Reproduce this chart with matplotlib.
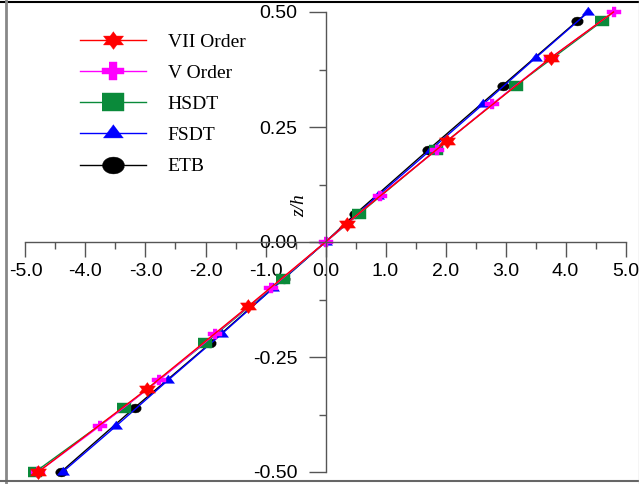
import numpy as np
import matplotlib.pyplot as plt
from matplotlib.lines import Line2D
from matplotlib.ticker import MultipleLocator, FormatStrFormatter

plt.rcParams['axes.unicode_minus'] = False

# through-thickness distribution (x value vs z/h) for each theory
z_vii = [-0.5, -0.32, -0.14, 0.0, 0.04, 0.22, 0.40, 0.5]
x_vii = [-4.79, -2.98, -1.29, 0.0, 0.35, 2.03, 3.75, 4.80]

z_v = [-0.5, -0.4, -0.3, -0.2, -0.1, 0.0, 0.1, 0.2, 0.3, 0.4, 0.5]
x_v = [-4.79, -3.76, -2.77, -1.84, -0.91, 0.0, 0.90, 1.85, 2.78, 3.75, 4.80]

z_hsdt = [-0.5, -0.36, -0.22, -0.08, 0.0, 0.06, 0.20, 0.34, 0.48, 0.5]
x_hsdt = [-4.84, -3.36, -2.01, -0.71, 0.0, 0.55, 1.84, 3.17, 4.61, 4.80]

z_fsdt = [-0.5, -0.4, -0.3, -0.2, -0.1, 0.0, 0.1, 0.2, 0.3, 0.4, 0.5]
x_fsdt = [-4.38, -3.49, -2.62, -1.73, -0.87, 0.0, 0.87, 1.75, 2.63, 3.50, 4.38]

z_etb = [-0.5, -0.36, -0.22, -0.08, 0.0, 0.06, 0.20, 0.34, 0.48, 0.5]
x_etb = [-4.41, -3.18, -1.92, -0.70, 0.0, 0.49, 1.71, 2.95, 4.19, 4.38]

labels = ['VII Order', 'V Order', 'HSDT', 'FSDT', 'ETB']
colors = ['#ff0000', '#ff00ff', '#0a8a3a', '#0000ff', '#000000']


# markers in the reference are a bit wider than tall
def wide(verts, sx=1.3):
    return [(x * sx, y) for x, y in verts]


a = 0.36
m_plus = wide([(-a, 1), (a, 1), (a, a), (1, a), (1, -a), (a, -a), (a, -1), (-a, -1),
               (-a, -a), (-1, -a), (-1, a), (-a, a)])
m_square = wide([(-1, -1), (1, -1), (1, 1), (-1, 1)])
m_tri = wide([(0, 1), (-0.866, -0.5), (0.866, -0.5)])
ang = np.radians(np.arange(90, 450, 30))
rad = np.where(np.arange(12) % 2 == 0, 1.0, 0.58)
m_star = wide(list(zip(rad * np.cos(ang), rad * np.sin(ang))))
ang2 = np.linspace(0, 2 * np.pi, 41)[:-1]
m_ell = wide(list(zip(np.cos(ang2), np.sin(ang2))))

markers = [m_star, m_plus, m_square, m_tri, m_ell]
plot_ms = [11.5, 9.4, 9.4, 9.0, 8.3]
leg_ms = [14.4, 16.5, 16.5, 14.4, 15.8]

fig = plt.figure(figsize=(6.39, 4.84), dpi=100)
ax = fig.add_axes([0, 0, 1, 1])

# drawn back to front: ETB first, VII Order on top
series = [(x_vii, z_vii, [0, 1, 2, 4, 5, 6]),
          (x_v, z_v, None),
          (x_hsdt, z_hsdt, [0, 1, 2, 3, 5, 6, 7, 8]),
          (x_fsdt, z_fsdt, None),
          (x_etb, z_etb, [0, 1, 2, 3, 5, 6, 7, 8])]
for i in reversed(range(5)):
    xs, zs, mk = series[i]
    ax.plot(xs, zs, color=colors[i], lw=1.0, marker=markers[i], ms=plot_ms[i],
            mec=colors[i], mfc=colors[i], mew=0.3, markevery=mk)

ax.set_xlim(-325.5 / 60, (639 - 325.5) / 60)
ax.set_ylim(-242 / 460, 242 / 460)

for s in ['top', 'right']:
    ax.spines[s].set_visible(False)
ax.spines['left'].set_position(('data', 0))
ax.spines['bottom'].set_position(('data', 0))
ax.spines['left'].set_bounds(-0.5, 0.5)
ax.spines['bottom'].set_bounds(-5, 5)
for s in ['left', 'bottom']:
    ax.spines[s].set_color('#555555')
    ax.spines[s].set_linewidth(1.0)

ax.xaxis.set_major_locator(MultipleLocator(1.0))
ax.xaxis.set_minor_locator(MultipleLocator(0.5))
ax.yaxis.set_major_locator(MultipleLocator(0.25))
ax.yaxis.set_minor_locator(MultipleLocator(0.125))
ax.xaxis.set_major_formatter(FormatStrFormatter('%.1f'))
ax.yaxis.set_major_formatter(FormatStrFormatter('%.2f'))
ax.tick_params(axis='x', which='major', direction='out', length=11, width=1.0,
               color='#555555', pad=4, labelsize=14)
ax.tick_params(axis='y', which='major', direction='out', length=12, width=1.0,
               color='#555555', pad=8, labelsize=14)
ax.tick_params(which='minor', direction='out', length=5, width=1.0, color='#555555')
for lab in ax.get_xticklabels() + ax.get_yticklabels():
    lab.set_fontfamily('Liberation Sans')

ax.text(-0.43, 0.08, 'z/h', rotation=90, ha='center', va='center',
        fontsize=14, fontstyle='italic', fontfamily='Liberation Serif')

handles = [Line2D([], [], color=colors[i], lw=1.0, marker=markers[i], ms=leg_ms[i],
                  mec=colors[i], mfc=colors[i], mew=0.3) for i in range(5)]
ax.legend(handles, labels, loc='upper left', bbox_to_anchor=(80 / 639, 1 - 33 / 484),
          bbox_transform=fig.transFigure, frameon=False, borderpad=0, borderaxespad=0,
          handlelength=3.4, handletextpad=1.1, labelspacing=0.7,
          prop={'family': 'Liberation Serif', 'size': 14})

# outer frame of the picture
fig.add_artist(Line2D([0, 1], [1 - 1.5 / 484] * 2, transform=fig.transFigure,
                      color='black', lw=1.5))
fig.add_artist(Line2D([5.5 / 639] * 2, [0, 1], transform=fig.transFigure,
                      color='#888888', lw=2))
fig.add_artist(Line2D([0, 1], [3 / 484] * 2, transform=fig.transFigure,
                      color='#666666', lw=1.5))
fig.add_artist(Line2D([638.5 / 639] * 2, [0, 1], transform=fig.transFigure,
                      color='#cccccc', lw=1))

fig.savefig('out.png', dpi=100)
